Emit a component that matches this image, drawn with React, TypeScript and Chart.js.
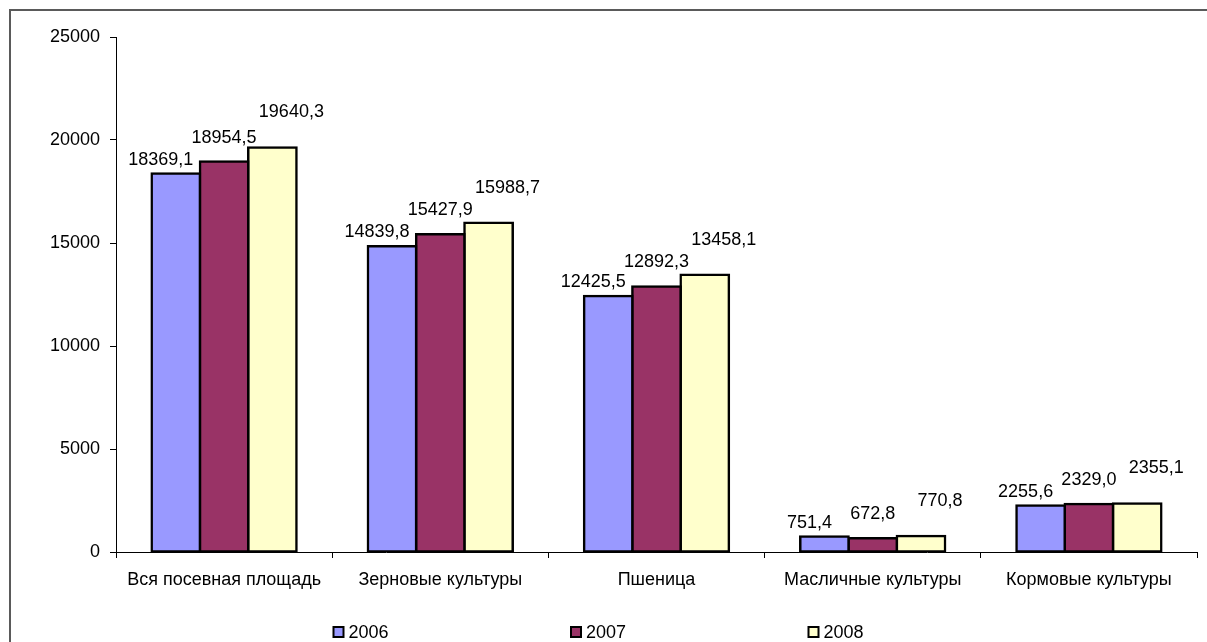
import { useEffect, useRef } from 'react';
import { Chart, registerables } from 'chart.js';

Chart.register(...registerables);

const categories = [
  'Вся посевная площадь',
  'Зерновые культуры',
  'Пшеница',
  'Масличные культуры',
  'Кормовые культуры',
];
const seriesNames = ['2006', '2007', '2008'];
const values2006 = [18369.1, 14839.8, 12425.5, 751.4, 2255.6];
const values2007 = [18954.5, 15427.9, 12892.3, 672.8, 2329.0];
const values2008 = [19640.3, 15988.7, 13458.1, 770.8, 2355.1];
const yTickValues = [0, 5000, 10000, 15000, 20000, 25000];

const seriesColors = ['#9999FF', '#993366', '#FFFFCC'];
const labelShiftX = [-15, 0, 19];
const labelGap = [9, 19, 30];

const FONT = '"Liberation Sans", Arial, Helvetica, sans-serif';
const W = 1207;
const H = 642;

const fmt = (v: number) => v.toFixed(1).replace('.', ',');

const framePlugin = {
  id: 'frame',
  beforeDraw(chart: any) {
    const ctx = chart.ctx;
    ctx.save();
    ctx.fillStyle = '#ffffff';
    ctx.fillRect(0, 0, chart.width, chart.height);
    ctx.strokeStyle = '#5a5a5a';
    ctx.lineWidth = 2;
    ctx.strokeRect(10, 10, chart.width + 200, chart.height + 200);
    ctx.restore();
  },
};

const valueLabelsPlugin = {
  id: 'valueLabels',
  afterDatasetsDraw(chart: any) {
    const ctx = chart.ctx;
    ctx.save();
    ctx.font = `18px ${FONT}`;
    ctx.fillStyle = '#000';
    ctx.textAlign = 'center';
    ctx.textBaseline = 'alphabetic';
    chart.data.datasets.forEach((ds: any, di: number) => {
      const meta = chart.getDatasetMeta(di);
      meta.data.forEach((el: any, i: number) => {
        ctx.fillText(fmt(ds.data[i]), el.x + labelShiftX[di], el.y - labelGap[di]);
      });
    });
    ctx.restore();
  },
};

const legendPlugin = {
  id: 'customLegend',
  afterDraw(chart: any) {
    const ctx = chart.ctx;
    const step = 237.5;
    const n = chart.data.datasets.length;
    const firstX = chart.width / 2 - 271;
    const cy = 632;
    ctx.save();
    ctx.font = `18px ${FONT}`;
    ctx.textAlign = 'left';
    ctx.textBaseline = 'middle';
    for (let i = 0; i < n; i++) {
      const ds = chart.data.datasets[i];
      const x = firstX + i * step;
      ctx.fillStyle = '#000';
      ctx.fillRect(x, cy - 6, 12, 12);
      ctx.fillStyle = ds.backgroundColor;
      ctx.fillRect(x + 2, cy - 4, 8, 8);
      ctx.fillStyle = '#000';
      ctx.fillText(ds.label, x + 16, cy + 1);
    }
    ctx.restore();
  },
};

export default function App() {
  const canvasRef = useRef<HTMLCanvasElement | null>(null);

  useEffect(() => {
    const canvas = canvasRef.current;
    if (!canvas) return;
    const allSeries = [values2006, values2007, values2008];
    const chart = new Chart(canvas, {
      type: 'bar',
      data: {
        labels: categories,
        datasets: allSeries.map((vals, i) => ({
          label: seriesNames[i],
          data: vals,
          backgroundColor: seriesColors[i],
          borderColor: '#000000',
          borderWidth: 2.5,
          borderSkipped: false,
          inflateAmount: 1.25,
          categoryPercentage: 0.67,
          barPercentage: 1,
        })),
      },
      options: {
        responsive: false,
        animation: false,
        devicePixelRatio: 1,
        layout: { padding: { left: 0, right: 10, top: 37, bottom: 0 } },
        plugins: {
          legend: { display: false },
          tooltip: { enabled: false },
          title: { display: false },
        },
        scales: {
          x: {
            offset: true,
            grid: {
              display: true,
              offset: true,
              drawOnChartArea: false,
              drawTicks: true,
              tickLength: 6,
              color: '#000',
            },
            border: { display: true, color: '#000', width: 1 },
            ticks: {
              color: '#000',
              font: { family: FONT, size: 18 },
              padding: 11,
              maxRotation: 0,
              autoSkip: false,
            },
            afterFit: (s: any) => {
              s.height = 90;
            },
          },
          y: {
            min: 0,
            max: 25000,
            afterBuildTicks: (s: any) => {
              s.ticks = yTickValues.map((v) => ({ value: v }));
            },
            grid: {
              display: true,
              drawOnChartArea: false,
              drawTicks: true,
              tickLength: 6,
              color: '#000',
            },
            border: { display: true, color: '#000', width: 1 },
            ticks: {
              color: '#000',
              font: { family: FONT, size: 18 },
              padding: 10,
              callback: (v: any) => String(v),
            },
            afterFit: (s: any) => {
              s.width = 116;
            },
          },
        },
      },
      plugins: [framePlugin, valueLabelsPlugin, legendPlugin],
    });
    return () => chart.destroy();
  }, []);

  return (
    <div style={{ position: 'fixed', left: 0, top: 0, width: W, height: H, background: '#fff' }}>
      <canvas ref={canvasRef} width={W} height={H} style={{ display: 'block', width: W, height: H }} />
    </div>
  );
}
